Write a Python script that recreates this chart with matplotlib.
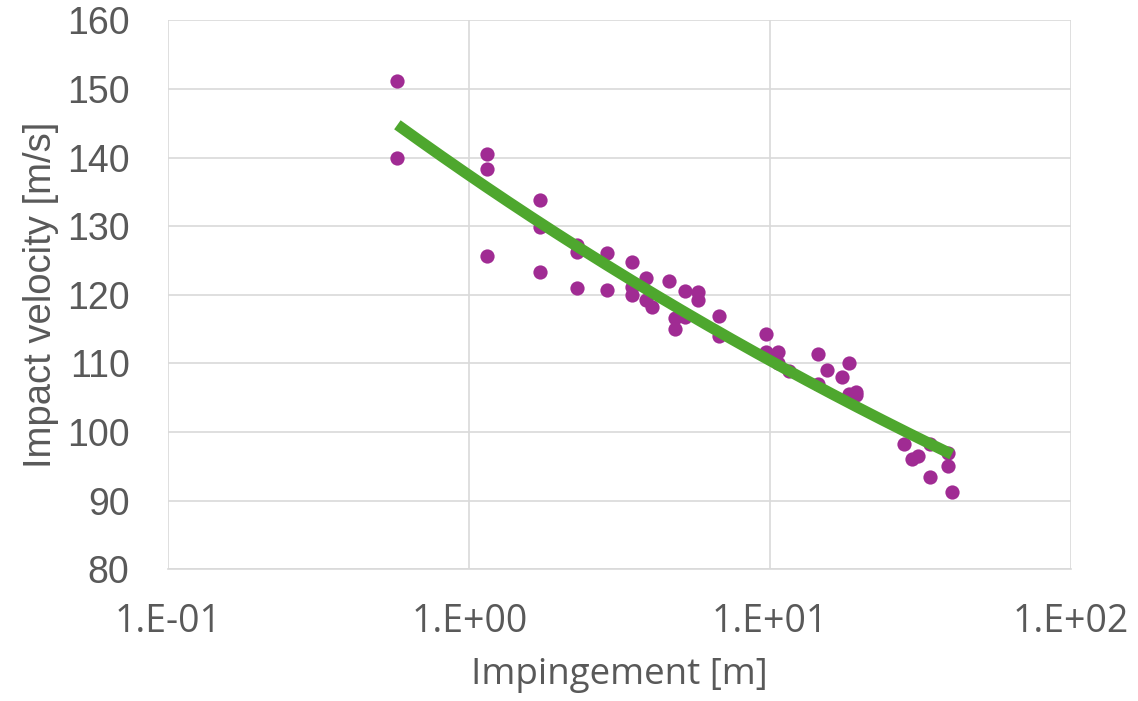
import numpy as np
import matplotlib
matplotlib.use("Agg")
import matplotlib.pyplot as plt
from matplotlib.ticker import FixedLocator, FuncFormatter

# impingement distance [m] and measured impact velocity [m/s]
impingement = [0.577, 0.577,
               1.15, 1.15, 1.15,
               1.72, 1.72, 1.72,
               2.29, 2.29, 2.29,
               2.87, 2.87,
               3.48, 3.48, 3.48,
               3.87, 3.87, 4.05,
               4.62, 4.83, 4.83,
               5.22, 5.22, 5.77, 5.77,
               6.77, 6.77,
               9.70, 9.70, 9.75, 10.6, 10.6,
               11.6, 14.4, 14.4, 15.5, 17.3,
               18.3, 18.3, 19.3, 19.3,
               27.8, 29.6, 31.0, 34.1, 34.1,
               38.9, 38.9, 40.2]
velocity = [151.2, 140.0,
            140.5, 138.3, 125.6,
            133.8, 129.9, 123.3,
            127.2, 126.3, 121.0,
            126.1, 120.7,
            124.8, 121.2, 120.0,
            122.4, 119.2, 118.2,
            122.0, 116.6, 115.0,
            120.6, 116.8, 120.4, 119.2,
            116.9, 114.0,
            114.3, 111.7, 111.4, 111.6, 110.0,
            108.9, 111.3, 107.0, 109.0, 108.0,
            110.0, 105.6, 105.9, 105.4,
            98.2, 96.0, 96.5, 98.2, 93.4,
            96.9, 95.1, 91.2]

x = np.array(impingement)
y = np.array(velocity)

# power-law trendline, fitted in log-log space
b, ln_a = np.polyfit(np.log(x), np.log(y), 1)
xf = np.logspace(np.log10(x.min()), np.log10(x.max()), 200)
yf = np.exp(ln_a) * xf ** b

grey = "#595959"

fig = plt.figure(figsize=(11.38, 7.01), dpi=100)
ax = fig.add_axes([0.148, 0.188, 0.793, 0.783])

ax.scatter(x, y, s=105, color="#A02B93", zorder=3, linewidths=0)
ax.plot(xf, yf, color="#4EA72E", linewidth=8, solid_capstyle="butt", zorder=4)

ax.set_xscale("log")
ax.set_xlim(0.1, 100)
ax.set_ylim(80, 160)
ax.xaxis.set_major_locator(FixedLocator([0.1, 1, 10, 100]))
ax.xaxis.set_minor_locator(FixedLocator([]))
ax.xaxis.set_major_formatter(FuncFormatter(lambda v, p: "1.E%+03d" % round(np.log10(v))))
ax.set_yticks(np.arange(80, 161, 10))

ax.grid(True, color="#d9d9d9", linewidth=1.2)
ax.set_axisbelow(True)
for side in ["top", "right", "left"]:
    ax.spines[side].set_visible(False)
ax.spines["bottom"].set_color("#d9d9d9")
ax.spines["bottom"].set_linewidth(1.2)
ax.tick_params(length=0)

for lbl in ax.get_yticklabels():
    lbl.set_fontfamily("Liberation Sans")
    lbl.set_fontsize(27)
    lbl.set_color(grey)
for lbl in ax.get_xticklabels():
    lbl.set_fontfamily("Open Sans")
    lbl.set_fontsize(27)
    lbl.set_color(grey)
ax.tick_params(axis="y", pad=28)
ax.tick_params(axis="x", pad=24)

ax.set_ylabel("Impact velocity [m/s]", fontsize=27.5, family="Liberation Sans", color=grey, labelpad=6)
ax.set_xlabel("Impingement [m]", fontsize=26.5, family="Open Sans", color=grey, labelpad=12)

fig.savefig("out.png", dpi=100)
